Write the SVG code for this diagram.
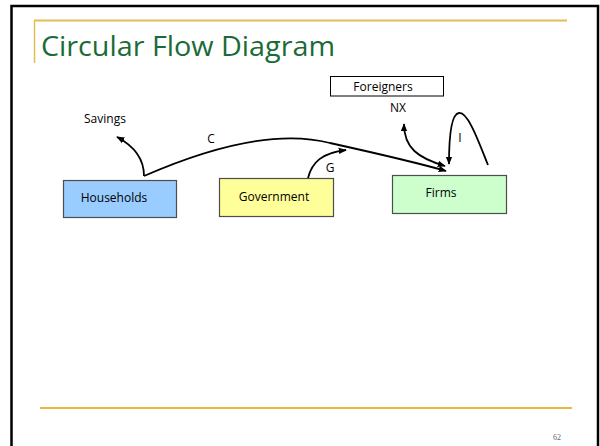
<svg xmlns="http://www.w3.org/2000/svg" width="600" height="446" viewBox="0 0 600 446">
  <style>
    .lbl { font-family: "Open Sans", "Liberation Sans", sans-serif; font-size: 12px; fill: #000; }
    .box { stroke: #4d4d4d; stroke-width: 1.2; }
    .flow { fill: none; stroke: #000; stroke-width: 1.8; }
  </style>
  <defs>
    <marker id="head" viewBox="0 0 10 10" refX="9" refY="5" markerWidth="4.5" markerHeight="4.5" orient="auto-start-reverse" markerUnits="strokeWidth">
      <path d="M0,1 L10,5 L0,9 Z" fill="#000"/>
    </marker>
  </defs>

  <!-- page background and frame -->
  <rect x="0" y="0" width="600" height="446" fill="#fff"/>
  <path d="M11.5,446 L11.5,6 L598,6 L598,446" fill="none" stroke="#000" stroke-width="2.5"/>

  <!-- slide title rules -->
  <line x1="34" y1="20.5" x2="567" y2="20.5" stroke="#E2BC55" stroke-width="2"/>
  <line x1="34.5" y1="20" x2="34.5" y2="63" stroke="#E2BC55" stroke-width="1.5"/>
  <text x="41" y="56" font-family="'Open Sans', 'Liberation Sans', sans-serif" font-size="27" fill="#1A6B38" textLength="294" lengthAdjust="spacingAndGlyphs">Circular Flow Diagram</text>

  <!-- footer -->
  <line x1="40" y1="408" x2="572" y2="408" stroke="#E0A400" stroke-width="1.5"/>
  <text x="553" y="440" font-family="'Liberation Serif', serif" font-size="8" fill="#666">62</text>

  <!-- nodes -->
  <g id="households">
    <rect class="box" x="63.5" y="180.5" width="113" height="37" fill="#99CCFF"/>
    <text class="lbl" x="114" y="202" text-anchor="middle">Households</text>
  </g>
  <g id="government">
    <rect class="box" x="219.5" y="178.5" width="114" height="38" fill="#FFFF99"/>
    <text class="lbl" x="274" y="201" text-anchor="middle">Government</text>
  </g>
  <g id="firms">
    <rect class="box" x="392.5" y="175.5" width="114" height="38" fill="#CCFFCC"/>
    <text class="lbl" x="441" y="197" text-anchor="middle">Firms</text>
  </g>
  <g id="foreigners">
    <rect x="330.5" y="76.5" width="113" height="19.5" fill="#fff" stroke="#000" stroke-width="1"/>
    <text class="lbl" x="383" y="90.5" text-anchor="middle">Foreigners</text>
  </g>

  <!-- flows -->
  <g id="connectors">
    <path class="flow" d="M144,176 C144,158 134,146 117,137" marker-end="url(#head)"/>
    <path class="flow" d="M144,176 C215,145 280,130 330,143 C375,153 415,162 446,171" marker-end="url(#head)"/>
    <path class="flow" d="M308,178 C312,162 322,153 346,150" marker-end="url(#head)"/>
    <path class="flow" d="M445,166 C418,158 404,148 404,124" marker-start="url(#head)" marker-end="url(#head)"/>
    <path class="flow" d="M488,165 C478,140 468,112 459,113 C451,114 449,140 449,164" marker-end="url(#head)"/>
  </g>

  <!-- flow labels -->
  <text class="lbl" x="84" y="123">Savings</text>
  <text class="lbl" x="211" y="143" text-anchor="middle">C</text>
  <text class="lbl" x="330" y="172" text-anchor="middle">G</text>
  <text class="lbl" x="398" y="112" text-anchor="middle">NX</text>
  <text class="lbl" x="460" y="142" text-anchor="middle">I</text>
</svg>
